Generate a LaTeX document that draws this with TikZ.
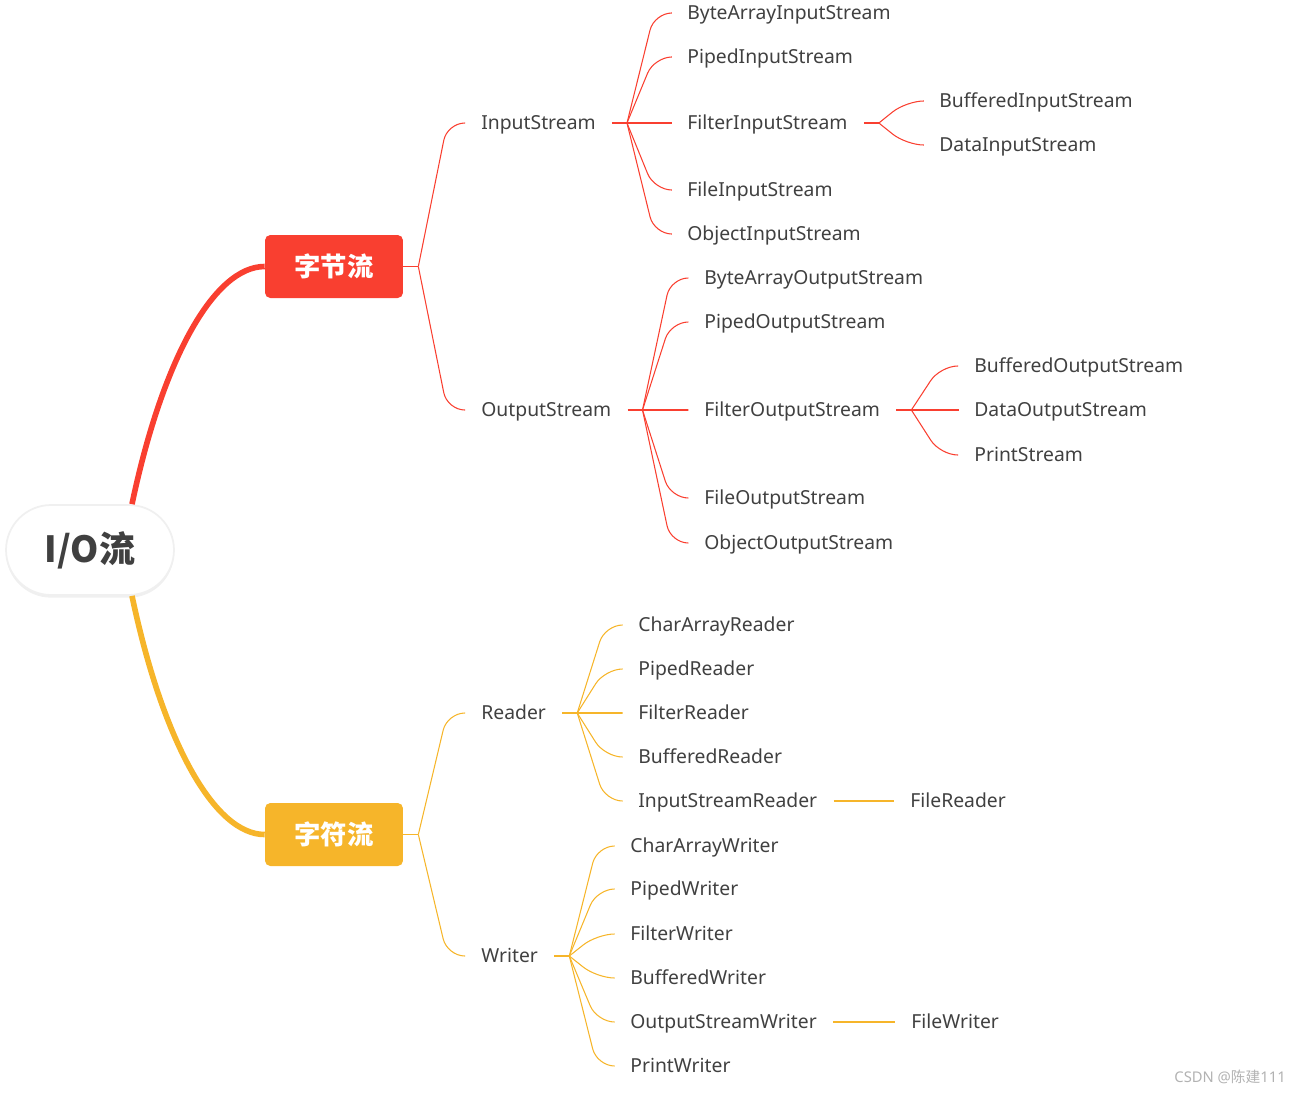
\documentclass[tikz,border=0pt]{standalone}
\usepackage{fontspec}
\setmainfont{Noto Sans}
\newfontfamily\cjk{Noto Sans CJK SC}
\usetikzlibrary{calc,shadows}
\definecolor{byteRed}{RGB}{249,63,48}
\definecolor{charYellow}{RGB}{246,181,42}
\definecolor{textGray}{RGB}{64,64,64}
\tikzstyle{leaf}=[anchor=west,inner xsep=0.32cm,inner ysep=2pt,text height=7.8pt,text depth=0pt,text=textGray,font=\fontsize{11}{13}\selectfont]
\tikzstyle{streambox}=[rectangle,rounded corners=3pt,minimum width=2.76cm,minimum height=1.26cm,text=white,font=\cjk\bfseries\fontsize{15}{18}\selectfont]
\tikzstyle{redline}=[draw=byteRed,line width=0.6pt,rounded corners=10pt]
\tikzstyle{yellowline}=[draw=charYellow,line width=0.6pt,rounded corners=10pt]
\tikzstyle{mainbranch}=[line width=3.2pt]

\begin{document}
\begin{tikzpicture}[x=0.02cm, y=-0.02cm]

\useasboundingbox (0,0) rectangle (1303,1093);

% root
\node[draw=black!6, line width=1pt, fill=white, rounded corners=0.9cm, minimum width=3.36cm, minimum height=1.8cm,
      drop shadow={shadow xshift=0pt, shadow yshift=-1.5pt, opacity=.12}, text=textGray] (root) at (90,550)
      {\cjk\bfseries\fontsize{20.5}{24}\selectfont I/O流};

% the two boxes
\node[streambox, fill=byteRed] (byte) at (334,266.5) {字节流};
\node[streambox, fill=charYellow] (char) at (334,834.5) {字符流};

\draw[byteRed, mainbranch] ([xshift=0.84cm]root.north) .. controls +(31,-147) and +(-50,0) .. (byte.west);
\draw[charYellow, mainbranch] ([xshift=0.84cm]root.south) .. controls +(31,147) and +(-50,0) .. (char.west);

%layer 1
\foreach \pos/\name/\label in {{(465,123)/IS/InputStream}, {(465,410)/OS/OutputStream}, {(465,713)/RD/Reader}, {(465,956)/WR/Writer}}
    \node[leaf] (\name) at \pos {\label};

%layer 2 bytes
\foreach \pos/\name/\label in {{(671,13)/BAIS/ByteArrayInputStream}, {(671,57)/PIS/PipedInputStream}, {(671,123)/FIS/FilterInputStream},
                               {(671,190)/FlIS/FileInputStream}, {(671,234)/OIS/ObjectInputStream}}
    \node[leaf] (\name) at \pos {\label};
\foreach \pos/\name/\label in {{(688,278)/BAOS/ByteArrayOutputStream}, {(688,322)/POS/PipedOutputStream}, {(688,410)/FOS/FilterOutputStream},
                               {(688,498)/FlOS/FileOutputStream}, {(688,543)/OOS/ObjectOutputStream}}
    \node[leaf] (\name) at \pos {\label};

%layer 2 chars
\foreach \pos/\name/\label in {{(622,625)/CAR/CharArrayReader}, {(622,669)/PR/PipedReader}, {(622,713)/FR/FilterReader},
                               {(622,757)/BR/BufferedReader}, {(622,801)/ISR/InputStreamReader}}
    \node[leaf] (\name) at \pos {\label};
\foreach \pos/\name/\label in {{(614,846)/CAW/CharArrayWriter}, {(614,889)/PW/PipedWriter}, {(614,934)/FW/FilterWriter},
                               {(614,978)/BW/BufferedWriter}, {(614,1022)/OSW/OutputStreamWriter}, {(614,1066)/PrW/PrintWriter}}
    \node[leaf] (\name) at \pos {\label};

%layer 3
\foreach \pos/\name/\label in {{(923,101)/BIS/BufferedInputStream}, {(923,145)/DIS/DataInputStream},
                               {(958,366)/BOS/BufferedOutputStream}, {(958,410)/DOS/DataOutputStream}, {(958,455)/PS/PrintStream},
                               {(894,801)/FlR/FileReader}, {(895,1022)/FlW/FileWriter}}
    \node[leaf] (\name) at \pos {\label};

% forks
\coordinate (fbyte) at ([xshift=0.3cm]byte.east);
\coordinate (fchar) at ([xshift=0.3cm]char.east);
\foreach \name in {IS,FIS,OS,FOS,RD,WR}
    \coordinate (f\name) at ([xshift=0.3cm]\name.east);

% stubs
\draw[redline] (byte.east) -- (fbyte);
\draw[yellowline] (char.east) -- (fchar);
\foreach \name in {IS,FIS,OS,FOS}
    \draw[redline] (\name.east) -- (f\name);
\foreach \name in {RD,WR}
    \draw[yellowline] (\name.east) -- (f\name);

% connect forks with children
\foreach \source/\dest in {fbyte/IS, fbyte/OS, fIS/BAIS, fIS/PIS, fIS/FIS, fIS/FlIS, fIS/OIS, fFIS/BIS, fFIS/DIS,
                           fOS/BAOS, fOS/POS, fOS/FOS, fOS/FlOS, fOS/OOS, fFOS/BOS, fFOS/DOS, fFOS/PS} {
    \coordinate (bend) at ($(\source)!0.62!(\dest.west)$);
    \draw[redline] (\source) -- (bend |- \dest.west) -- (\dest.west);
}
\foreach \source/\dest in {fchar/RD, fchar/WR, fRD/CAR, fRD/PR, fRD/FR, fRD/BR, fRD/ISR,
                           fWR/CAW, fWR/PW, fWR/FW, fWR/BW, fWR/OSW, fWR/PrW} {
    \coordinate (bend) at ($(\source)!0.62!(\dest.west)$);
    \draw[yellowline] (\source) -- (bend |- \dest.west) -- (\dest.west);
}
\draw[yellowline] (ISR.east) -- (FlR.west);
\draw[yellowline] (OSW.east) -- (FlW.west);

% watermark
\node[anchor=east, text=black!30, font=\fontsize{8.4}{10}\selectfont] (mark) at (1292,1077) {CSDN @{\cjk 陈建}111};

\end{tikzpicture}
\end{document}
